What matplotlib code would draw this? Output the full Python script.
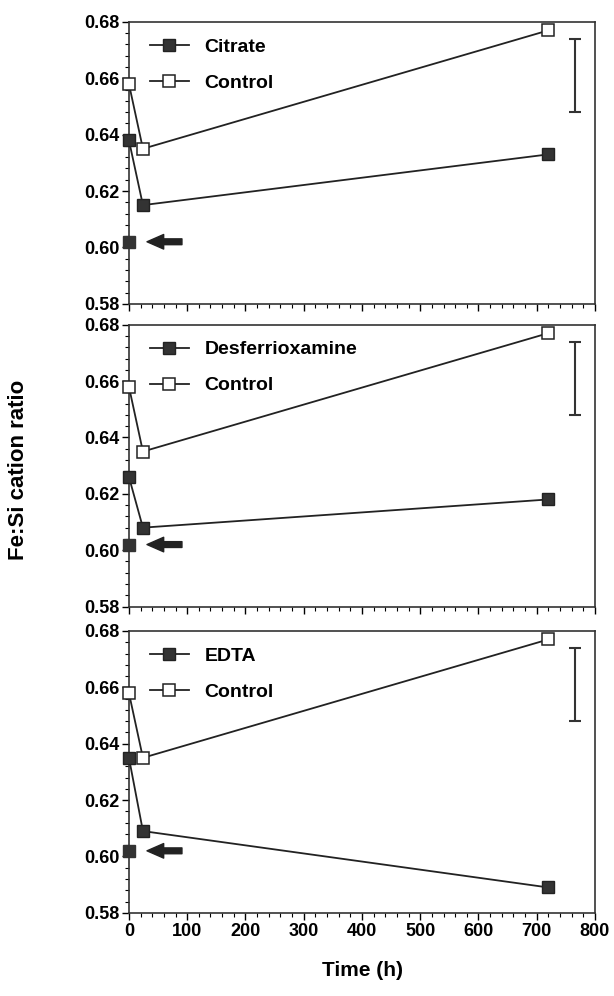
import numpy as np
import matplotlib.pyplot as plt
from matplotlib.ticker import MultipleLocator

plt.rcParams['font.family'] = ['Liberation Sans', 'DejaVu Sans']
plt.rcParams['font.weight'] = 'bold'

# time points (h)
t = [0, 24, 720]
t_start = [0]

# treatment series
names = ['Citrate', 'Desferrioxamine', 'EDTA']
treat = [
    [0.638, 0.615, 0.633],
    [0.626, 0.608, 0.618],
    [0.635, 0.609, 0.589],
]
control = [0.658, 0.635, 0.677]
start_val = [0.602]  # initial material (arrow)

# error bar (typical uncertainty)
err_x = [766]
err_y = [0.661]
err_e = [0.013]

fig = plt.figure(figsize=(6.14, 9.96), dpi=100)
left, width = 0.21, 0.759
tops = [0.978, 0.674, 0.3665]
height = 0.283

for i in range(3):
    ax = fig.add_axes([left, tops[i] - height, width, height])
    ax.plot(t, treat[i], '-s', color='#222222', mfc='#333333', mec='#222222',
            ms=8, lw=1.3, label=names[i], clip_on=False, zorder=3)
    ax.plot(t, control, '-s', color='#222222', mfc='white', mec='#222222',
            ms=8, lw=1.3, mew=1.1, label='Control', clip_on=False, zorder=4)
    ax.plot(t_start, start_val, 's', color='#333333', ms=8, clip_on=False, zorder=3)
    ax.annotate('', xy=(31, start_val[0]), xytext=(91, start_val[0]),
                arrowprops=dict(arrowstyle='simple,head_length=0.8,head_width=0.7,tail_width=0.28',
                                mutation_scale=15, fc='#222222', ec='#222222',
                                shrinkA=0, shrinkB=0))
    ax.errorbar(err_x, err_y, yerr=err_e, fmt='none', ecolor='#333333',
                elinewidth=1.5, capsize=4.5, capthick=1.5)

    ax.set_xlim(0, 800)
    ax.set_ylim(0.58, 0.68)
    ax.set_yticks(np.arange(0.58, 0.681, 0.02))
    ax.set_yticklabels(['%.2f' % v for v in np.arange(0.58, 0.681, 0.02)])
    ax.xaxis.set_major_locator(MultipleLocator(100))
    ax.xaxis.set_minor_locator(MultipleLocator(20))
    ax.yaxis.set_minor_locator(MultipleLocator(0.004))
    ax.tick_params(which='major', direction='out', length=5, width=1, labelsize=13,
                   top=False, right=False, pad=2)
    ax.tick_params(which='minor', direction='out', length=3, width=0.8,
                   top=False, right=False)
    if i < 2:
        ax.tick_params(labelbottom=False)
    for s in ax.spines.values():
        s.set_linewidth(1.2)
        s.set_color('#333333')
    ax.legend(loc='upper left', frameon=False, fontsize=14, handlelength=2.0,
              handletextpad=0.8, borderaxespad=0, borderpad=0,
              bbox_to_anchor=(0.045, 0.943), labelspacing=0.95)

fig.text(0.03, 0.528, 'Fe:Si cation ratio', rotation=90, ha='center', va='center',
         fontsize=16, fontweight='bold')
fig.text(0.59, 0.026, 'Time (h)', ha='center', va='center', fontsize=15,
         fontweight='bold')

fig.savefig('out.png', dpi=100)
